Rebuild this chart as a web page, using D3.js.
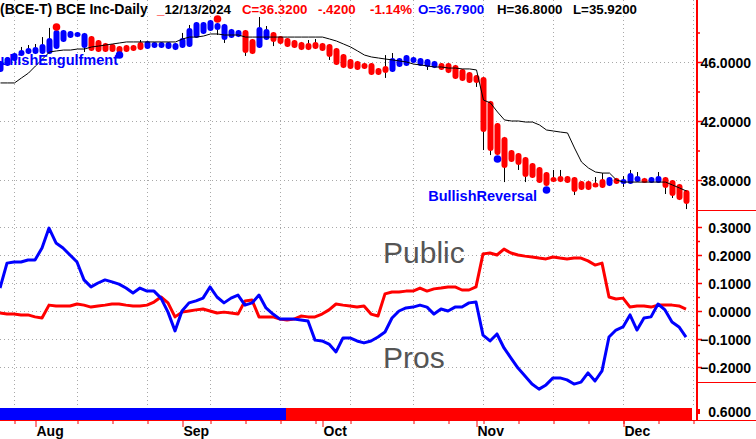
<!DOCTYPE html>
<html><head><meta charset="utf-8">
<script src="https://cdn.jsdelivr.net/npm/d3@7"></script>
<style>body{margin:0;background:#fff}svg{display:block}text{font-family:"Liberation Sans",Arial,sans-serif}</style>
</head><body>
<svg id="c" width="756" height="439"></svg>
<script>
// ---------- DATA ----------
const openP = [45.32,45.73,46.07,46.41,46.54,46.54,46.54,46.54,46.88,47.36,47.63,47.69,46.95,47.76,47.49,47.29,47.22,47.08,47.15,47.15,
47.36,46.88,46.95,46.95,46.88,46.81,46.95,47.02,47.63,47.90,48.10,48.17,47.49,47.63,47.69,48.17,47.56,46.95,47.49,48.03,
47.76,47.63,47.49,47.36,47.29,47.36,47.29,47.22,46.95,46.54,46.20,46.07,45.93,45.93,45.59,45.73,45.32,45.66,45.73,45.93,
45.73,45.66,45.59,45.93,45.93,45.80,45.53,45.32,45.12,44.98,43.36,41.86,40.92,40.03,39.83,39.56,39.15,38.88,38.54,38.20,
38.27,38.27,38.20,37.93,37.93,37.80,38.07,37.59,38.14,37.73,37.73,37.86,38.14,37.80,37.80,38.20,38.00,37.73,37.32];
const closeP = [46.07,46.34,46.61,46.81,46.95,47.02,47.22,47.63,48.17,48.17,48.10,48.03,47.97,46.75,46.68,46.68,46.68,46.61,46.68,46.75,
46.81,47.42,47.36,47.36,47.36,47.29,47.63,48.31,48.71,48.71,48.85,48.64,48.58,48.24,48.17,46.61,46.54,48.37,48.24,47.36,
47.22,47.02,46.95,46.81,46.81,46.88,46.75,46.34,45.80,45.59,45.53,45.46,45.53,45.12,45.12,45.25,46.27,46.27,46.47,46.34,
46.27,46.20,46.07,45.46,45.25,44.85,44.71,44.58,44.58,41.25,39.97,39.69,38.81,39.22,39.02,38.20,38.14,37.80,37.59,37.86,
37.86,37.80,37.19,37.32,37.32,37.53,37.46,38.20,37.73,38.07,38.47,38.27,37.80,38.20,38.27,37.46,36.92,36.64,36.37];
const highP = [46.07,46.34,46.61,47.02,47.15,47.22,47.69,48.31,48.17,48.17,48.10,48.03,47.97,47.76,47.49,47.29,47.22,47.08,47.15,47.15,
47.49,47.42,47.36,47.36,47.36,47.29,47.97,48.51,48.71,48.71,48.85,48.64,48.58,48.24,48.17,48.17,47.56,49.05,48.44,48.03,
47.76,47.63,47.49,47.36,47.49,47.56,47.29,47.22,46.95,46.54,46.20,46.07,45.93,45.93,45.59,46.47,46.61,46.27,46.47,46.34,
46.27,46.20,46.07,45.93,45.93,45.80,45.53,45.32,45.12,44.98,43.36,41.86,40.92,40.03,39.83,39.56,39.15,38.88,38.54,38.68,
38.68,38.27,38.20,37.93,37.93,38.20,38.47,38.20,38.14,38.27,38.68,38.54,38.14,38.20,38.54,38.20,38.00,37.73,37.32];
const lowP = [45.32,45.73,46.07,46.41,46.54,46.54,46.54,46.54,46.88,47.36,47.63,47.69,46.68,46.75,46.68,46.68,46.68,46.61,46.68,46.75,
46.81,46.88,46.95,46.95,46.88,46.81,46.95,47.02,47.63,47.90,48.10,47.83,47.29,47.63,47.69,46.41,46.54,46.95,47.49,47.08,
47.22,47.02,46.95,46.81,46.81,46.88,46.75,46.14,45.80,45.59,45.53,45.46,45.53,45.12,45.12,44.92,45.32,45.66,45.73,45.93,
45.73,45.46,45.59,45.46,45.25,44.85,44.71,44.58,44.31,40.03,39.69,39.69,37.86,39.22,38.68,37.86,38.14,37.80,37.59,37.86,
37.86,37.80,36.98,37.32,37.32,37.53,37.46,37.59,37.73,37.53,37.73,37.86,37.80,37.80,37.80,37.05,36.78,36.64,36.03];
const trendLine = [44.58,44.58,44.58,44.92,45.25,45.73,46.20,46.68,46.75,46.81,46.81,46.88,46.88,47.02,47.08,47.15,47.22,47.29,47.36,47.36,
47.36,47.36,47.36,47.36,47.36,47.36,47.56,47.69,47.69,47.76,47.90,47.90,47.83,47.83,47.83,47.69,47.69,47.69,47.69,47.69,
47.69,47.69,47.69,47.69,47.69,47.69,47.69,47.56,47.42,47.22,47.02,46.75,46.47,46.34,46.27,46.20,46.14,46.07,46.00,45.86,
45.80,45.73,45.66,45.66,45.59,45.59,45.53,45.53,45.46,43.42,43.22,42.61,42.07,42.00,42.00,41.93,41.93,41.73,41.39,41.32,
41.25,41.19,40.17,39.22,38.81,38.54,38.47,38.47,38.00,37.86,37.86,37.86,37.86,37.86,37.86,37.86,37.66,37.46,37.25];
const publicVals = [-0.007,-0.011,-0.011,-0.014,-0.014,-0.021,-0.025,0.021,0.018,0.018,0.018,0.025,0.021,0.014,0.018,0.021,0.025,0.025,0.021,0.018,
0.018,0.021,0.032,0.050,0.029,-0.021,-0.004,0.000,0.004,0.007,0.000,-0.007,-0.004,-0.007,-0.011,0.036,0.039,-0.021,-0.021,-0.021,
-0.029,-0.032,-0.029,-0.018,-0.021,-0.021,-0.011,0.004,0.025,0.021,0.018,0.014,0.018,-0.011,-0.018,0.061,0.068,0.068,0.071,0.071,
0.082,0.071,0.079,0.082,0.086,0.086,0.075,0.075,0.086,0.204,0.207,0.200,0.221,0.207,0.200,0.196,0.193,0.189,0.186,0.193,
0.189,0.186,0.189,0.189,0.179,0.164,0.171,0.050,0.043,0.046,0.014,0.018,0.018,0.014,0.021,0.021,0.021,0.018,0.007];
const prosVals = [0.082,0.171,0.175,0.175,0.182,0.182,0.225,0.296,0.243,0.225,0.200,0.175,0.111,0.086,0.100,0.111,0.104,0.096,0.082,0.064,
0.082,0.071,0.071,0.046,-0.004,-0.071,0.000,0.029,0.036,0.046,0.086,0.050,0.029,0.046,0.057,0.021,0.029,0.057,0.011,-0.011,
-0.029,-0.029,-0.029,-0.032,-0.036,-0.104,-0.107,-0.118,-0.146,-0.096,-0.096,-0.107,-0.114,-0.107,-0.093,-0.075,-0.025,0.000,0.011,0.014,
0.021,0.014,-0.011,0.007,0.000,0.014,0.014,0.029,0.032,-0.086,-0.107,-0.082,-0.132,-0.168,-0.204,-0.232,-0.261,-0.279,-0.264,-0.239,
-0.239,-0.246,-0.261,-0.254,-0.221,-0.250,-0.214,-0.093,-0.068,-0.057,-0.014,-0.068,-0.025,-0.021,0.025,0.004,-0.039,-0.057,-0.093];
const markerIdx = [8, 31, 17, 71, 78];
const markerPrice = [48.37, 48.92, 46.47, 39.42, 37.32];
const markerKind = ["bear", "bear", "bull", "bull", "bull"];
const patternLabelIdx = [17, 78];
const patternLabelText = ["BullishEngulfment", "BullishReversal"];
const signalSide = ["pros", "public"];
const signalRunLength = [41, 58];
const monthLabels = ["Aug", "Sep", "Oct", "Nov", "Dec"];
const monthStartIdx = [5, 26, 46, 68, 89];
const weekTickIdx = [2, 11, 16, 21, 30, 35, 40, 45, 50, 59, 64, 69, 74, 79, 84, 89, 94, 99];
const gridIdx = [2, 11, 21, 30, 40, 50, 59, 69, 79, 89, 99];
const priceMajorTicks = [46, 42, 38];
const priceMinorTicks = [48, 44, 40];
const indMajorTicks = [0.3, 0.2, 0.1, 0.0, -0.1, -0.2];
const indMinorTicks = [0.25, 0.15, 0.05, -0.05, -0.15];
const signalAxisLabel = "0.6000";
const headerTitle = "(BCE-T) BCE Inc-Daily";
const headerDate = "12/13/2024";
const headerParts = [
  ["C=36.3200", "r"], ["-.4200", "r"], ["-1.14%", "r"], ["O=36.7900", "b"], ["H=36.8000", "k"], ["L=35.9200", "k"]
];
const seriesNames = ["Public", "Pros"];

// ---------- LAYOUT ----------
(function draw() {
const RED = "#ff0000", BLUE = "#0000ff";
const colorOf = {k: "#000", r: RED, b: BLUE};
const svg = d3.select("#c");
const x = d3.scaleLinear().domain([0, 99]).range([0, 693]);
const yP = d3.scaleLinear().domain([38, 46]).range([180, 62]);
const yI = d3.scaleLinear().domain([-0.2, 0.3]).range([367, 227]);
const AX = 697;
const PLOT_R = 693;

svg.append("rect").attr("width", 756).attr("height", 439).attr("fill", "#fff");

// grid
const grid = svg.append("g").attr("stroke", "#a8a8a8").attr("stroke-dasharray", "1,3").attr("stroke-width", 1);
grid.selectAll(".gv").data(gridIdx).join("line")
  .attr("x1", d => Math.round(x(d)) + 0.5).attr("x2", d => Math.round(x(d)) + 0.5)
  .attr("y1", 0).attr("y2", 408);
grid.selectAll(".gp").data(priceMajorTicks).join("line")
  .attr("x1", 0).attr("x2", PLOT_R).attr("y1", d => Math.round(yP(d)) + 0.5).attr("y2", d => Math.round(yP(d)) + 0.5);
grid.selectAll(".gi").data(indMajorTicks).join("line")
  .attr("x1", 0).attr("x2", PLOT_R).attr("y1", d => Math.round(yI(d)) + 0.5).attr("y2", d => Math.round(yI(d)) + 0.5);

// candles
const bars = d3.range(openP.length).map(i => ({i, o: openP[i], c: closeP[i], h: highP[i], l: lowP[i]}));
svg.append("clipPath").attr("id", "clipTop").append("rect").attr("x", 0).attr("y", 0).attr("width", PLOT_R).attr("height", 212);
const gTop = svg.append("g").attr("clip-path", "url(#clipTop)");
gTop.selectAll(".wick").data(bars).join("line")
  .attr("x1", d => Math.round(x(d.i)) + 0.5).attr("x2", d => Math.round(x(d.i)) + 0.5)
  .attr("y1", d => yP(d.h)).attr("y2", d => yP(d.l)).attr("stroke", "#000").attr("stroke-width", 1);
gTop.selectAll(".body").data(bars).join("rect")
  .attr("x", d => Math.round(x(d.i)) - 2.5).attr("width", 6)
  .attr("y", d => { const a = yP(Math.max(d.o, d.c)), b = yP(Math.min(d.o, d.c)); return (b - a < 5) ? (a + b) / 2 - 2.5 : a; })
  .attr("height", d => Math.max(5, Math.abs(yP(d.o) - yP(d.c))))
  .attr("rx", 3).attr("ry", 3)
  .attr("fill", d => d.c >= d.o ? BLUE : RED);

// trend line
gTop.append("path").datum(trendLine)
  .attr("d", d3.line().x((d, i) => Math.round(x(i)) + 0.5).y(d => yP(d)))
  .attr("fill", "none").attr("stroke", "#000").attr("stroke-width", 1);

// pattern markers
gTop.selectAll(".mk").data(markerIdx.map((d, k) => ({i: d, p: markerPrice[k], kind: markerKind[k]}))).join("circle")
  .attr("cx", d => Math.round(x(d.i)) + 0.5).attr("cy", d => yP(d.p)).attr("r", 3.8)
  .attr("fill", d => d.kind === "bull" ? BLUE : RED);

// pattern labels (right end just left of the marker)
svg.selectAll(".pl").data(patternLabelIdx.map((d, k) => ({i: d, t: patternLabelText[k], p: markerPrice[markerIdx.indexOf(d)]}))).join("text")
  .attr("x", d => x(d.i) - (d.i === 78 ? 9 : 1)).attr("y", d => yP(d.p) + (d.i === 78 ? 11 : 10))
  .attr("text-anchor", "end").attr("fill", BLUE).attr("font-weight", "bold").attr("font-size", "14.5px")
  .text(d => d.t);

// indicator lines
const ind = svg.append("g");
const lineI = d3.line().x((d, i) => x(i)).y(d => yI(d));
ind.append("path").datum(publicVals).attr("d", lineI).attr("fill", "none").attr("stroke", RED).attr("stroke-width", 3).attr("stroke-linejoin", "round");
ind.append("path").datum(prosVals).attr("d", lineI).attr("fill", "none").attr("stroke", BLUE).attr("stroke-width", 3).attr("stroke-linejoin", "round");
ind.append("text").attr("x", 383).attr("y", 263).attr("font-size", "30px").attr("fill", "#555").text(seriesNames[0]);
ind.append("text").attr("x", 383).attr("y", 368).attr("font-size", "30px").attr("fill", "#555").text(seriesNames[1]);

// signal bar
let s0 = 0;
const runs = signalRunLength.map((n, k) => { const r = {s: s0, e: s0 + n - 1, side: signalSide[k]}; s0 += n; return r; });
svg.selectAll(".sig").data(runs).join("rect")
  .attr("x", d => Math.max(0, x(d.s) - 1)).attr("width", d => x(d.e) + 6 - Math.max(0, x(d.s) - 1))
  .attr("y", 408).attr("height", 12)
  .attr("fill", d => d.side === "pros" ? BLUE : RED);

// right axis
svg.append("line").attr("x1", AX).attr("x2", AX).attr("y1", 0).attr("y2", 421).attr("stroke", RED).attr("stroke-width", 2);
[210, 382].forEach(yy => svg.append("line").attr("x1", AX).attr("x2", 756).attr("y1", yy + 0.5).attr("y2", yy + 0.5).attr("stroke", RED));
svg.append("line").attr("x1", 0).attr("x2", 756).attr("y1", 420.5).attr("y2", 420.5).attr("stroke", RED);

function rightAxis(scale, major, minor) {
  const gMaj = svg.append("g").attr("transform", `translate(${AX},0)`)
    .call(d3.axisRight(scale).tickValues(major).tickSize(5).tickFormat(d3.format(".4f")));
  gMaj.select(".domain").remove();
  gMaj.selectAll("line").attr("stroke", RED).attr("stroke-width", 1.5);
  gMaj.selectAll("text").attr("x", 54).attr("text-anchor", "end").attr("dy", "0.36em")
    .attr("font-family", '"Liberation Sans", Arial, sans-serif').attr("font-size", "14px").attr("font-weight", "bold").attr("fill", "#000");
  const gMin = svg.append("g").attr("transform", `translate(${AX},0)`)
    .call(d3.axisRight(scale).tickValues(minor).tickSize(3).tickFormat(""));
  gMin.select(".domain").remove();
  gMin.selectAll("line").attr("stroke", RED).attr("stroke-width", 1.5);
}
rightAxis(yP, priceMajorTicks, priceMinorTicks);
rightAxis(yI, indMajorTicks, indMinorTicks);
svg.append("rect").attr("x", AX).attr("y", 409).attr("width", 3).attr("height", 5).attr("fill", RED);
svg.append("text").attr("x", 751).attr("y", 417).attr("text-anchor", "end").attr("font-size", "14px").attr("font-weight", "bold").text(signalAxisLabel);

// bottom axis
const gW = svg.append("g").attr("transform", "translate(0,421)")
  .call(d3.axisBottom(x).tickValues(weekTickIdx).tickSize(3).tickFormat(""));
gW.select(".domain").remove();
gW.selectAll("line").attr("stroke", RED).attr("transform", "translate(0.5,0)");
const gM = svg.append("g").attr("transform", "translate(0,421)")
  .call(d3.axisBottom(x).tickValues(monthStartIdx).tickSize(6).tickFormat((d, k) => monthLabels[k]));
gM.select(".domain").remove();
gM.selectAll("line").attr("stroke", RED).attr("transform", "translate(0.5,0)");
gM.selectAll("text").attr("x", 1).attr("y", 15).attr("dy", 0).attr("text-anchor", "start")
  .attr("font-family", '"Liberation Sans", Arial, sans-serif').attr("font-size", "14px").attr("font-weight", "bold").attr("fill", "#000");

// header
const hdr = svg.append("g").attr("font-weight", "bold");
hdr.append("text").attr("x", 0).attr("y", 14).attr("font-size", "14px").attr("fill", "#000").text(headerTitle);
const dt = hdr.append("text").attr("x", 157).attr("y", 14).attr("font-size", "13.3px");
dt.append("tspan").attr("fill", RED).text("_");
dt.append("tspan").attr("fill", "#000").text(headerDate);
const headerX = [242, 318, 370, 418, 497, 573];
hdr.selectAll(".hp").data(headerParts).join("text")
  .attr("x", (d, k) => headerX[k]).attr("y", 14)
  .attr("font-size", "13.3px").attr("fill", d => colorOf[d[1]]).text(d => d[0]);
})();
</script>
</body></html>
